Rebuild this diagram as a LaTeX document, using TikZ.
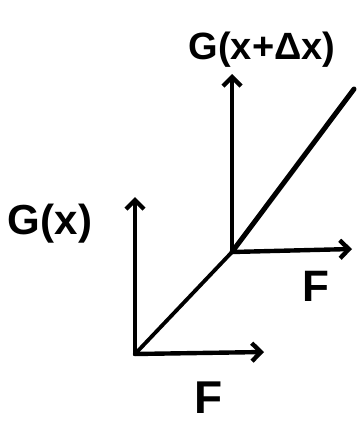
\documentclass[tikz,border=0pt]{standalone}
\usepackage{fontspec}
\setmainfont{Liberation Sans}
\usetikzlibrary{arrows.meta}
\tikzset{
  stroke/.style={line width=4.4pt, line cap=round, line join=round},
  vec/.style={stroke, -{Straight Barb[length=9pt,width=18pt,line width=4.4pt]}},
  lbl/.style={inner sep=0pt, anchor=center, font=\bfseries}
}
\begin{document}
\begin{tikzpicture}[x=1pt,y=-1pt]
\useasboundingbox (0,0) rectangle (359,423);
\coordinate (O1) at (135,354);
\coordinate (O2) at (232,252);
\coordinate (A1) at (135,197);
\coordinate (B1) at (264,352);
\coordinate (A2) at (232,74);
\coordinate (B2) at (352,249);
\coordinate (D) at (354,89);
\draw[vec] (O1) -- (A1);
\draw[vec] (O1) -- (B1);
\draw[stroke, line width=3.8pt] (O1) -- (O2);
\draw[vec] (O2) -- (A2);
\draw[vec] (O2) -- (B2);
\draw[stroke, line width=5pt] (O2) -- (D);
\node[lbl, font=\bfseries\fontsize{42}{44}\selectfont] (gx) at (50,224) {G(x)};
\node[lbl, font=\bfseries\fontsize{46}{48}\selectfont] (f1) at (209,398) {F};
\node[lbl, font=\bfseries\fontsize{44}{46}\selectfont] (f2) at (316,286) {F};
\node[lbl, font=\bfseries\fontsize{38}{40}\selectfont] (gdx) at (262,50) {G(x+Δx)};
\end{tikzpicture}
\end{document}
